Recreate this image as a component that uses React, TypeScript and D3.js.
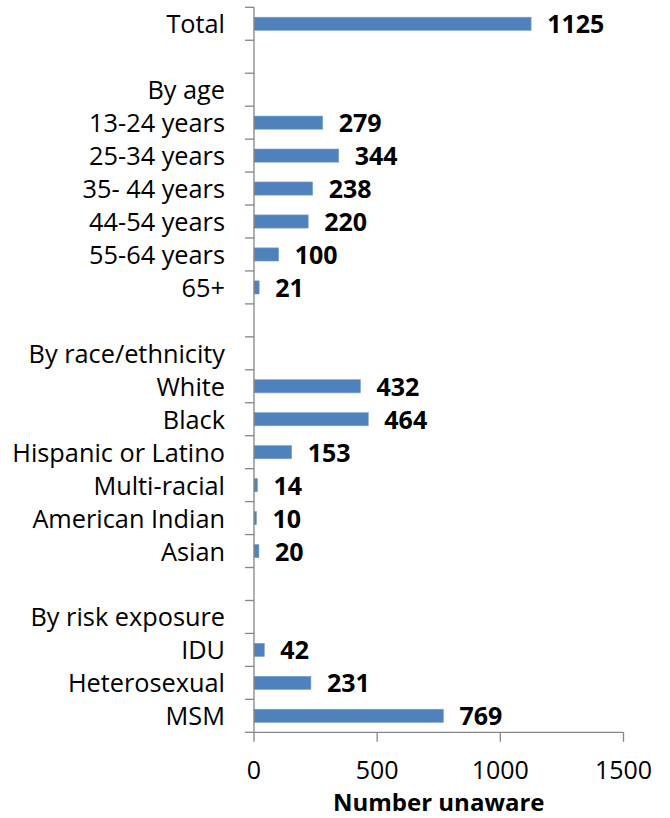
import React from "react";
import * as d3 from "d3";

const categories: string[] = [
  "Total", "", "By age", "13-24 years", "25-34 years", "35- 44 years", "44-54 years",
  "55-64 years", "65+", "", "By race/ethnicity", "White", "Black", "Hispanic or Latino",
  "Multi-racial", "American Indian", "Asian", "", "By risk exposure", "IDU", "Heterosexual", "MSM",
];
const values: (number | null)[] = [
  1125, null, null, 279, 344, 238, 220, 100, 21, null, null, 432, 464, 153, 14, 10, 20, null, null, 42, 231, 769,
];
const xTicks: number[] = [0, 500, 1000, 1500];
const xTitle = "Number unaware";

const W = 670;
const H = 818;
const left = 254;
const right = 623.5;
const top = 7.3;
const bottom = 732.3;
const FONT = "'Open Sans', sans-serif";
const AXIS = "#868686";
const BAR = "#4F81BD";

export default function App() {
  const x = d3.scaleLinear().domain([0, 1500]).range([left, right]);
  const idx = categories.map((_, i) => i);
  const y = d3.scaleBand<number>().domain(idx).range([top, bottom]).paddingInner(0.6).paddingOuter(0.3);
  const rows = d3.scaleBand<number>().domain(idx).range([top, bottom]).padding(0);
  const step = rows.step();

  return (
    <svg width={W} height={H} style={{ position: "absolute", left: 0, top: 0, background: "#fff" }}>
      {values.map((v, i) =>
        v == null ? null : (
          <rect key={"b" + i} x={x(0)} y={y(i)!} width={x(v) - x(0)} height={y.bandwidth()}
            fill={BAR} stroke="#7fa3d1" strokeWidth={0.6} />
        )
      )}
      {values.map((v, i) =>
        v == null ? null : (
          <text key={"v" + i} x={x(v) + 16} y={rows(i)! + step / 2 + 9.5} fontFamily={FONT}
            fontWeight="bold" fontSize={25} fill="#000">{v}</text>
        )
      )}
      {categories.map((c, i) => (
        <text key={"c" + i} x={225} y={rows(i)! + step / 2 + 9.5} textAnchor="end"
          fontFamily={FONT} fontSize={25.3} fill="#000">{c}</text>
      ))}
      <line x1={left} x2={left} y1={top} y2={bottom} stroke={AXIS} strokeWidth={1.3} />
      {d3.range(categories.length + 1).map((i) => (
        <line key={"yt" + i} x1={left - 9} x2={left} y1={top + i * step} y2={top + i * step}
          stroke={AXIS} strokeWidth={1.3} />
      ))}
      <line x1={left} x2={right} y1={bottom} y2={bottom} stroke={AXIS} strokeWidth={1.3} />
      {xTicks.map((t) => (
        <g key={"xt" + t}>
          <line x1={x(t)} x2={x(t)} y1={bottom} y2={bottom + 9.5} stroke={AXIS} strokeWidth={1.3} />
          <text x={x(t)} y={778.5} textAnchor="middle" fontFamily={FONT} fontSize={25} fill="#000">{t}</text>
        </g>
      ))}
      <text x={(left + right) / 2} y={810.8} textAnchor="middle" fontFamily={FONT} fontWeight="bold"
        fontSize={24} fill="#000">{xTitle}</text>
    </svg>
  );
}
